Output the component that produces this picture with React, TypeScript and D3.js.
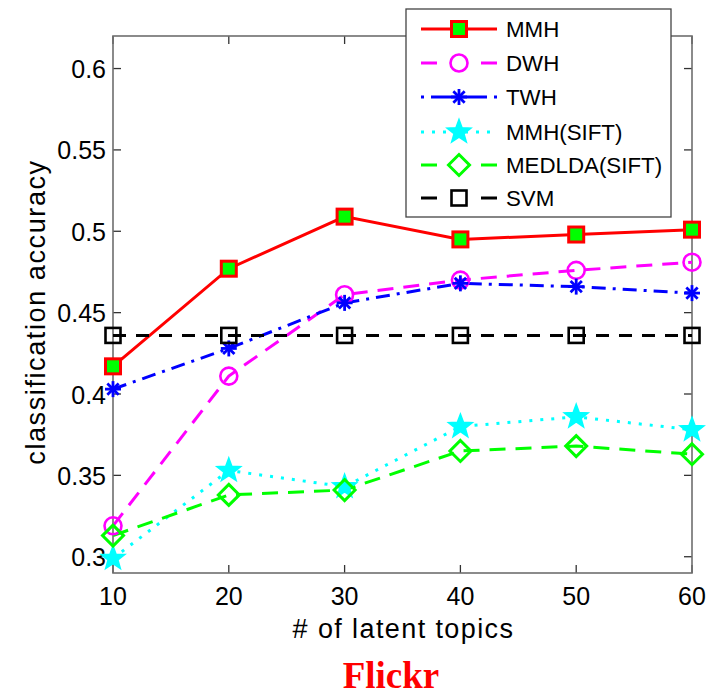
import React from "react";
import * as d3 from "d3";

const topics = [10, 20, 30, 40, 50, 60];
const mmh = [0.417, 0.477, 0.509, 0.495, 0.498, 0.501];
const dwh = [0.319, 0.411, 0.461, 0.470, 0.476, 0.481];
const twh = [0.403, 0.428, 0.456, 0.468, 0.466, 0.462];
const mmhSift = [0.299, 0.353, 0.343, 0.380, 0.386, 0.378];
const medlda = [0.313, 0.338, 0.341, 0.365, 0.368, 0.363];
const svm = [0.436, 0.436, 0.436, 0.436, 0.436, 0.436];
const yTicks = [0.3, 0.35, 0.4, 0.45, 0.5, 0.55, 0.6];
const yTickLabels = ["0.3", "0.35", "0.4", "0.45", "0.5", "0.55", "0.6"];
const xTickLabels = ["10", "20", "30", "40", "50", "60"];

type Series = {
  name: string;
  values: number[];
  color: string;
  dash: string;
  legendDash: string;
  marker: string;
};

const series: Series[] = [
  { name: "MMH", values: mmh, color: "#ff0000", dash: "none", legendDash: "none", marker: "square-filled" },
  { name: "DWH", values: dwh, color: "#ff00ff", dash: "16,10", legendDash: "16,44", marker: "circle" },
  { name: "TWH", values: twh, color: "#0000ff", dash: "14,7,3,7", legendDash: "3,7,56,7,3", marker: "asterisk" },
  { name: "MMH(SIFT)", values: mmhSift, color: "#00ffff", dash: "3,8", legendDash: "3,8", marker: "star" },
  { name: "MEDLDA(SIFT)", values: medlda, color: "#00ff00", dash: "16,10", legendDash: "16,44", marker: "diamond" },
  { name: "SVM", values: svm, color: "#000000", dash: "13,10", legendDash: "16,44", marker: "square" },
];

const FONT = "'Liberation Sans', Arial, Helvetica, sans-serif";

function starPath(r: number, ri: number) {
  const pts: [number, number][] = [];
  for (let i = 0; i < 10; i++) {
    const a = -Math.PI / 2 + (i * Math.PI) / 5;
    const rr = i % 2 === 0 ? r : ri;
    pts.push([rr * Math.cos(a), rr * Math.sin(a)]);
  }
  return d3.line()(pts)! + "Z";
}

function Marker({ type, x, y, color }: { type: string; x: number; y: number; color: string }) {
  const t = `translate(${x},${y})`;
  switch (type) {
    case "square-filled":
      return <rect transform={t} x={-7.5} y={-7.5} width={15} height={15} fill="#00ff00" stroke={color} strokeWidth={3} />;
    case "circle":
      return <circle transform={t} r={8.5} fill="none" stroke={color} strokeWidth={2.6} />;
    case "asterisk": {
      const r = 8;
      const d = r * Math.SQRT1_2;
      return (
        <g transform={t} stroke={color} strokeWidth={2.8}>
          <line x1={-r} y1={0} x2={r} y2={0} />
          <line x1={0} y1={-r} x2={0} y2={r} />
          <line x1={-d} y1={-d} x2={d} y2={d} />
          <line x1={-d} y1={d} x2={d} y2={-d} />
        </g>
      );
    }
    case "star":
      return <path transform={t} d={starPath(12.5, 5.2)} fill={color} stroke={color} strokeWidth={1.5} strokeLinejoin="miter" />;
    case "diamond":
      return <path transform={t} d="M0,-10.5L10.5,0L0,10.5L-10.5,0Z" fill="none" stroke={color} strokeWidth={3} />;
    case "square":
    default:
      return <rect transform={t} x={-7.5} y={-7.5} width={15} height={15} fill="none" stroke={color} strokeWidth={2.6} />;
  }
}

export default function App() {
  const W = 710;
  const H = 697;
  const left = 113, right = 692, top = 36, bottom = 573;
  const x = d3.scaleLinear().domain([10, 60]).range([left, right]);
  const y = d3.scaleLinear().domain([0.29, 0.62]).range([bottom, top]);
  const line = d3
    .line<number>()
    .x((_, i) => x(topics[i]))
    .y((v) => y(v));

  const axisColor = "#6e6e6e";
  const tickLen = 8;

  const legX = 406, legY = 9, legW = 265, legH = 208;
  const legRows = [29, 63, 97, 132, 165, 198];

  return (
    <svg width={W} height={H} style={{ position: "absolute", left: 0, top: 0, background: "#fff" }}>
      <rect x={0} y={0} width={W} height={H} fill="#fff" />
      {/* ticks */}
      <g stroke="#333" strokeWidth={1.3}>
        {topics.map((t, i) => (
          <g key={"xt" + i}>
            <line x1={x(t)} x2={x(t)} y1={bottom} y2={bottom - tickLen} />
            <line x1={x(t)} x2={x(t)} y1={top} y2={top + tickLen} />
          </g>
        ))}
        {yTicks.map((v, i) => (
          <g key={"yt" + i}>
            <line x1={left} x2={left + tickLen} y1={y(v)} y2={y(v)} />
            <line x1={right} x2={right - tickLen} y1={y(v)} y2={y(v)} />
          </g>
        ))}
      </g>
      <rect x={left} y={top} width={right - left} height={bottom - top} fill="none" stroke={axisColor} strokeWidth={1.6} />
      {/* tick labels */}
      <g fontFamily={FONT} fontSize={25} fill="#000">
        {topics.map((t, i) => (
          <text key={"xl" + i} x={x(t)} y={605} textAnchor="middle">
            {xTickLabels[i]}
          </text>
        ))}
        {yTicks.map((v, i) => (
          <text key={"yl" + i} x={106} y={y(v) + 9.5} textAnchor="end">
            {yTickLabels[i]}
          </text>
        ))}
      </g>
      <text
        x={(left + right) / 2 + 1}
        y={638}
        textAnchor="middle"
        fontFamily={FONT}
        fontSize={27}
        letterSpacing={1.4}
        fill="#000"
      >
        # of latent topics
      </text>
      <text
        transform={`translate(45,${312}) rotate(-90)`}
        textAnchor="middle"
        fontFamily={FONT}
        fontSize={27}
        letterSpacing={1.6}
        fill="#000"
      >
        classification accuracy
      </text>
      {/* lines */}
      {series.map((s) => (
        <path
          key={"l" + s.name}
          d={line(s.values)!}
          fill="none"
          stroke={s.color}
          strokeWidth={3}
          strokeDasharray={s.dash}
        />
      ))}
      {series.map((s) => (
        <g key={"m" + s.name}>
          {s.values.map((v, i) => (
            <Marker key={i} type={s.marker} x={x(topics[i])} y={y(v)} color={s.color} />
          ))}
        </g>
      ))}
      {/* legend */}
      <rect x={legX} y={legY} width={legW} height={legH} fill="#fff" stroke="#444" strokeWidth={1.3} />
      {series.map((s, i) => (
        <g key={"lg" + s.name}>
          <line x1={421} x2={497} y1={legRows[i]} y2={legRows[i]} stroke={s.color} strokeWidth={3} strokeDasharray={s.legendDash} />
          <Marker type={s.marker} x={459} y={legRows[i]} color={s.color} />
          <text x={506} y={legRows[i] + 8} fontFamily={FONT} fontSize={22.3} fill="#000">
            {s.name}
          </text>
        </g>
      ))}
      <text
        x={391}
        y={688}
        textAnchor="middle"
        fontFamily="'Liberation Serif', 'Times New Roman', serif"
        fontWeight="bold"
        fontSize={37}
        fill="#ff0000"
      >
        Flickr
      </text>
    </svg>
  );
}
